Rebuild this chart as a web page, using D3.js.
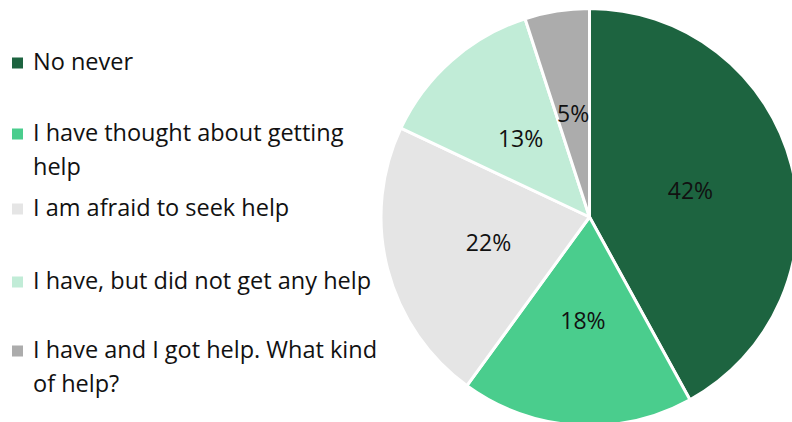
<!DOCTYPE html>
<html>
<head>
<meta charset="utf-8">
<script src="https://cdn.jsdelivr.net/npm/d3@7"></script>
<style>
  html, body { margin: 0; padding: 0; background: #ffffff; }
  svg { display: block; }
  text { font-family: "Open Sans", "Noto Sans", sans-serif; fill: #111111; }
</style>
</head>
<body>
<svg id="chart" width="792" height="422"></svg>
<script>
// Survey answers and their shares (percent)
const categories = [
  "No never",
  "I have thought about getting help",
  "I am afraid to seek help",
  "I have, but did not get any help",
  "I have and I got help. What kind of help?"
];
// Legend text broken into display lines
const legendLines = [
  ["No never"],
  ["I have thought about getting", "help"],
  ["I am afraid to seek help"],
  ["I have, but did not get any help"],
  ["I have and I got help. What kind", "of help?"]
];
const values = [42, 18, 22, 13, 5];
const colors = ["#1d6440", "#4acd8d", "#e5e5e5", "#c1ecd7", "#acacac"];

// Layout: first-line baseline of each legend entry
const legendBaselines = [70, 141, 216, 289, 358];

const W = 792, H = 422;
const svg = d3.select("#chart");

// ---- Pie ----
const cx = 589.5, cy = 217, radius = 208.5;
const pie = d3.pie().sort(null).value(d => d.value);
const arcs = pie(values.map((v, i) => ({ value: v, name: categories[i], color: colors[i] })));
const arc = d3.arc().innerRadius(0).outerRadius(radius);

const g = svg.append("g").attr("transform", `translate(${cx},${cy})`);
g.selectAll("path.slice")
  .data(arcs)
  .join("path")
  .attr("class", "slice")
  .attr("d", arc)
  .attr("fill", d => d.data.color)
  .attr("stroke", "#ffffff")
  .attr("stroke-width", 3)
  .attr("stroke-linejoin", "round");

g.selectAll("text.pct")
  .data(arcs)
  .join("text")
  .attr("class", "pct")
  .attr("transform", d => `translate(${arc.centroid(d)})`)
  .attr("text-anchor", "middle")
  .attr("dy", "0.36em")
  .style("font-size", "23px")
  .text(d => d.data.value + "%");

// ---- Legend ----
const lineGap = 34;
const legend = svg.append("g");
const items = legend.selectAll("g.item")
  .data(legendLines)
  .join("g")
  .attr("class", "item")
  .attr("transform", (d, i) => `translate(0,${legendBaselines[i]})`);

items.append("rect")
  .attr("x", 12)
  .attr("y", -12.5)
  .attr("width", 11)
  .attr("height", 11)
  .attr("fill", (d, i) => colors[i]);

items.append("text")
  .attr("x", 33)
  .attr("y", 0)
  .style("font-size", "23.5px")
  .selectAll("tspan")
  .data(d => d)
  .join("tspan")
  .attr("x", 33)
  .attr("y", (d, j) => j * lineGap)
  .text(d => d);
</script>
</body>
</html>
